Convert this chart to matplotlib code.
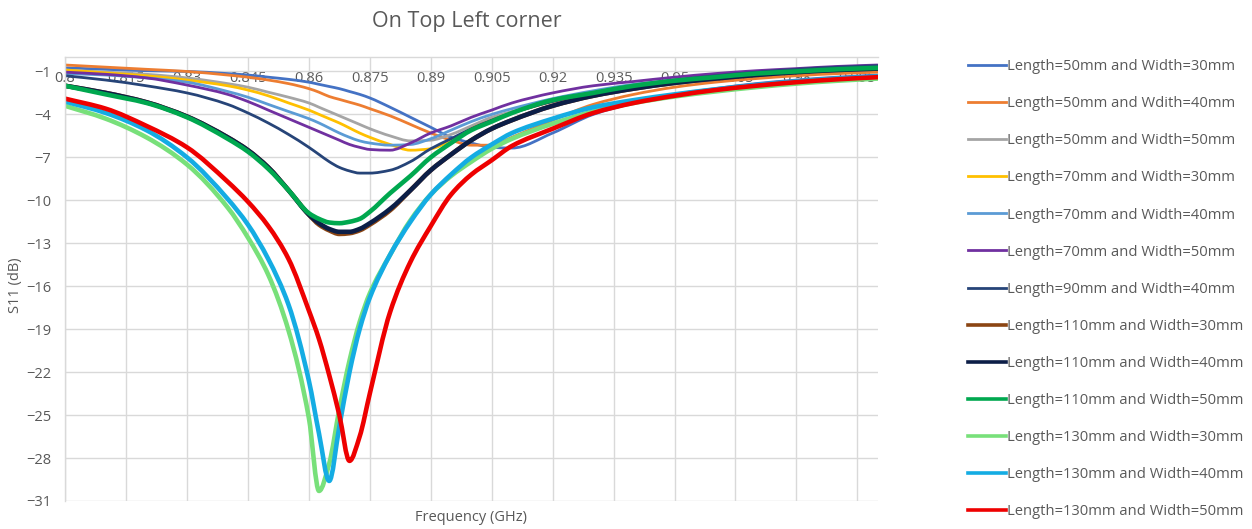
import numpy as np
import matplotlib
matplotlib.use('Agg')
import matplotlib.pyplot as plt
from matplotlib.path import Path
from matplotlib.patches import PathPatch
from matplotlib.lines import Line2D

plt.rcParams['font.family'] = ['Open Sans', 'DejaVu Sans']

# frequency points (GHz), shared by every series
freq = [0.800, 0.810, 0.820, 0.830, 0.840, 0.845, 0.850, 0.855, 0.860, 0.8625,
        0.865, 0.8675, 0.870, 0.8725, 0.875, 0.880, 0.885, 0.890, 0.895, 0.900,
        0.905, 0.910, 0.920, 0.930, 0.940, 0.950, 0.960, 0.970, 0.980, 0.990, 1.000]

# S11 (dB)
s_50_30 = [-0.75, -0.85, -0.95, -1.0, -1.15, -1.25, -1.4, -1.55, -1.75, -1.9,
           -2.05, -2.2, -2.4, -2.6, -2.85, -3.5, -4.2, -4.9, -5.6, -6.0,
           -6.3, -6.35, -5.3, -4.0, -3.2, -2.6, -2.2, -1.85, -1.6, -1.4, -1.25]
s_50_40 = [-0.55, -0.7, -0.85, -1.0, -1.25, -1.4, -1.6, -1.85, -2.2, -2.45,
           -2.75, -2.95, -3.15, -3.35, -3.6, -4.1, -4.7, -5.3, -5.8, -6.15,
           -6.15, -5.6, -4.4, -3.3, -2.6, -2.1, -1.75, -1.5, -1.3, -1.15, -1.05]
s_50_50 = [-0.9, -1.05, -1.2, -1.45, -1.85, -2.1, -2.45, -2.8, -3.2, -3.5,
           -3.8, -4.1, -4.4, -4.7, -5.0, -5.5, -5.85, -5.8, -5.4, -4.8,
           -4.2, -3.8, -3.0, -2.45, -2.0, -1.65, -1.35, -1.15, -0.95, -0.8, -0.7]
s_70_30 = [-0.9, -1.1, -1.3, -1.6, -2.0, -2.3, -2.7, -3.2, -3.7, -4.0,
           -4.3, -4.6, -4.95, -5.3, -5.6, -6.1, -6.5, -6.4, -5.8, -5.0,
           -4.4, -3.9, -3.1, -2.5, -2.0, -1.65, -1.35, -1.15, -0.95, -0.8, -0.7]
s_70_40 = [-1.15, -1.25, -1.45, -1.75, -2.4, -2.8, -3.3, -3.8, -4.3, -4.6,
           -4.95, -5.3, -5.6, -5.85, -6.0, -6.15, -6.1, -5.7, -5.1, -4.5,
           -4.0, -3.6, -2.9, -2.35, -1.9, -1.6, -1.3, -1.1, -0.9, -0.75, -0.65]
s_70_50 = [-1.05, -1.2, -1.45, -1.95, -2.6, -3.1, -3.7, -4.3, -4.9, -5.2,
           -5.5, -5.8, -6.1, -6.3, -6.45, -6.5, -6.0, -5.3, -4.8, -4.2,
           -3.7, -3.2, -2.5, -2.0, -1.7, -1.4, -1.15, -0.95, -0.8, -0.65, -0.55]
s_90_40 = [-1.3, -1.6, -2.0, -2.5, -3.3, -3.9, -4.6, -5.4, -6.3, -6.8,
           -7.3, -7.7, -7.95, -8.1, -8.1, -7.9, -7.3, -6.4, -5.7, -5.0,
           -4.4, -3.9, -3.1, -2.5, -2.0, -1.6, -1.3, -1.05, -0.85, -0.7, -0.6]
s_110_30 = [-2.0, -2.5, -3.15, -4.15, -5.6, -6.5, -7.7, -9.3, -11.0, -11.7,
            -12.1, -12.35, -12.3, -12.1, -11.7, -10.7, -9.3, -7.9, -6.8, -5.8,
            -5.0, -4.4, -3.4, -2.7, -2.2, -1.8, -1.5, -1.25, -1.05, -0.9, -0.8]
s_110_40 = [-2.0, -2.5, -3.15, -4.15, -5.6, -6.5, -7.7, -9.3, -11.0, -11.6,
            -12.0, -12.2, -12.2, -12.0, -11.6, -10.6, -9.3, -7.9, -6.8, -5.8,
            -5.0, -4.4, -3.4, -2.7, -2.2, -1.8, -1.5, -1.25, -1.05, -0.9, -0.8]
s_110_50 = [-2.0, -2.6, -3.2, -4.2, -5.7, -6.6, -7.8, -9.3, -10.9, -11.3,
            -11.55, -11.6, -11.5, -11.3, -10.8, -9.5, -8.3, -7.0, -6.0, -5.1,
            -4.5, -3.9, -3.0, -2.5, -2.0, -1.65, -1.4, -1.15, -1.0, -0.85, -0.75]
s_130_30 = [-3.4, -4.3, -5.6, -7.5, -10.5, -12.6, -15.2, -19.1, -25.2, -30.3,
            -28.4, -24.6, -21.2, -18.5, -16.5, -13.8, -11.4, -9.6, -8.3, -7.3,
            -6.4, -5.7, -4.65, -3.8, -3.2, -2.75, -2.4, -2.1, -1.85, -1.65, -1.5]
s_130_40 = [-3.1, -3.9, -5.1, -7.0, -9.9, -11.7, -14.1, -17.3, -22.6, -26.3,
            -29.6, -25.8, -22.0, -19.0, -16.8, -13.8, -11.5, -9.6, -8.2, -7.0,
            -6.1, -5.3, -4.3, -3.5, -3.0, -2.6, -2.25, -1.95, -1.7, -1.5, -1.35]
s_130_50 = [-2.9, -3.6, -4.8, -6.3, -8.7, -10.1, -11.8, -14.1, -17.7, -19.7,
            -22.2, -25.0, -28.2, -26.5, -23.5, -17.8, -14.3, -11.8, -9.6, -8.2,
            -7.2, -6.2, -5.0, -3.9, -3.2, -2.7, -2.3, -2.0, -1.75, -1.55, -1.4]

series = [s_50_30, s_50_40, s_50_50, s_70_30, s_70_40, s_70_50, s_90_40,
          s_110_30, s_110_40, s_110_50, s_130_30, s_130_40, s_130_50]
labels = ['Length=50mm and Width=30mm', 'Length=50mm and Wdith=40mm',
          'Length=50mm and Width=50mm', 'Length=70mm and Width=30mm',
          'Length=70mm and Width=40mm', 'Length=70mm and Width=50mm',
          'Length=90mm and Width=40mm', 'Length=110mm and Width=30mm',
          'Length=110mm and Width=40mm', 'Length=110mm and Width=50mm',
          'Length=130mm and Width=30mm', 'Length=130mm and Width=40mm',
          'Length=130mm and Width=50mm']
colors = ['#4472C4', '#ED7D31', '#A5A5A5', '#FFC000', '#5B9BD5', '#7030A0',
          '#264478', '#8B4513', '#0C1E47', '#00A84F', '#78E07A', '#14ACE3',
          '#EE0000']
widths = [2.0] * 7 + [3.3] * 6

x_ticks = [0.8, 0.815, 0.83, 0.845, 0.86, 0.875, 0.89, 0.905, 0.92, 0.935,
           0.95, 0.965, 0.98, 0.995]
x_tick_labels = ['0.8', '0.815', '0.83', '0.845', '0.86', '0.875', '0.89',
                 '0.905', '0.92', '0.935', '0.95', '0.965', '0.98', '0.995']
y_ticks = [-31, -28, -25, -22, -19, -16, -13, -10, -7, -4, -1]

text_col = '#595959'
grid_col = '#D9D9D9'


def smooth_path(x, y):
    """Bezier path through the points (monotone cubic tangents, like a smoothed Excel line)."""
    x = np.asarray(x, float)
    y = np.asarray(y, float)
    h = np.diff(x)
    d = np.diff(y) / h
    m = np.zeros_like(y)
    m[0] = d[0]
    m[-1] = d[-1]
    for i in range(1, len(x) - 1):
        if d[i - 1] * d[i] <= 0:
            m[i] = 0.0
        else:
            w1 = 2 * h[i] + h[i - 1]
            w2 = h[i] + 2 * h[i - 1]
            m[i] = (w1 + w2) / (w1 / d[i - 1] + w2 / d[i])
    verts = [(x[0], y[0])]
    codes = [Path.MOVETO]
    for i in range(len(x) - 1):
        verts += [(x[i] + h[i] / 3, y[i] + m[i] * h[i] / 3),
                  (x[i + 1] - h[i] / 3, y[i + 1] - m[i + 1] * h[i] / 3),
                  (x[i + 1], y[i + 1])]
        codes += [Path.CURVE4] * 3
    return Path(verts, codes)


fig = plt.figure(figsize=(12.52, 5.29), dpi=100)
ax = fig.add_axes([0.052, 0.053, 0.649, 0.839])

handles = []
for s, lab, c, w in zip(series, labels, colors, widths):
    ax.add_patch(PathPatch(smooth_path(freq, s), fill=False, edgecolor=c,
                           lw=w, capstyle='round', joinstyle='round'))
    handles.append(Line2D([], [], color=c, lw=min(w, 2.6), label=lab))

ax.set_xlim(0.8, 1.0)
ax.set_ylim(-31, 0)
ax.set_xticks(x_ticks)
ax.set_xticklabels(x_tick_labels)
ax.set_yticks(y_ticks)
ax.grid(True, color=grid_col, lw=1.0)
ax.set_axisbelow(True)

for side in ['bottom', 'right']:
    ax.spines[side].set_visible(False)
for side in ['top', 'left']:
    ax.spines[side].set_color(grid_col)
    ax.spines[side].set_linewidth(1.0)

# axis crosses at 0 dB, labels sit just under it
ax.tick_params(axis='x', bottom=False, labelbottom=False, top=False,
               labeltop=True, length=0, pad=-21, labelsize=10.5,
               labelcolor=text_col)
ax.tick_params(axis='y', length=0, pad=10, labelsize=10.5, labelcolor=text_col)

fig.text(0.0125, 0.46, 'S11 (dB)', color=text_col, fontsize=10.5,
         rotation=90, ha='center', va='center')
fig.text(0.376, 0.022, 'Frequency (GHz)', color=text_col, fontsize=10.5,
         ha='center', va='center')
fig.text(0.373, 0.960, 'On Top Left corner', color=text_col, fontsize=15.5,
         ha='center', va='center')

fig.legend(handles=handles, loc='upper left', bbox_to_anchor=(0.767, 0.902),
           frameon=False, fontsize=10.6, handlelength=2.6, handletextpad=0.1,
           labelspacing=1.5, borderpad=0, labelcolor=text_col)

fig.savefig('out.png', dpi=100)
